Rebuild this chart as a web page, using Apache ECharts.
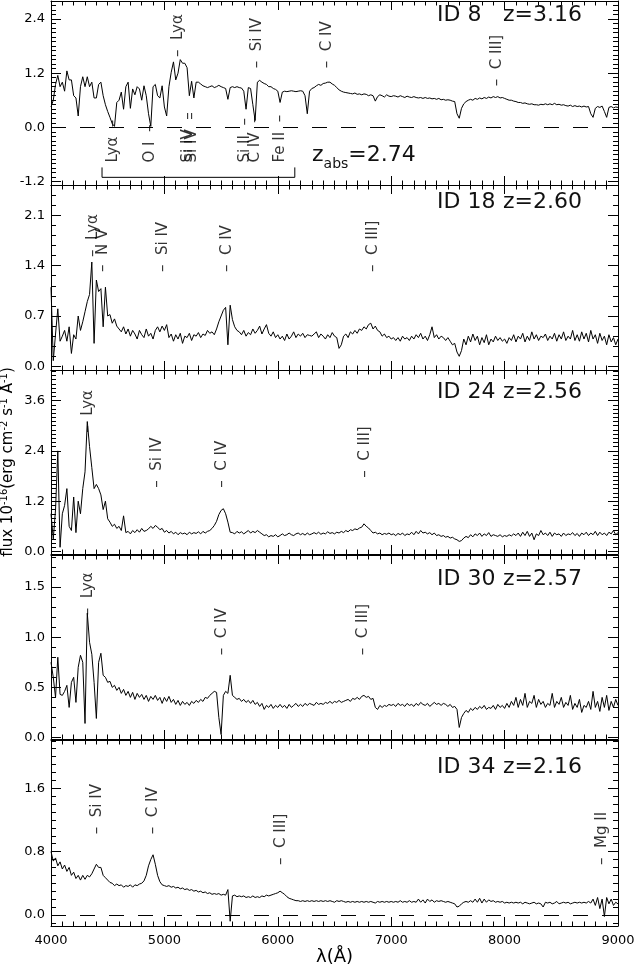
<!DOCTYPE html>
<html><head><meta charset="utf-8">
<script src="https://cdn.jsdelivr.net/npm/echarts@6/dist/echarts.min.js"></script>
<style>html,body{margin:0;padding:0;background:#fff}#c{width:635px;height:966px}</style>
</head><body><div id="c"></div>
<script>
// ---------- data ----------
const WAVE_START = 4000, WAVE_STEP = 20;   // wavelength grid (Å)

const spec8 = [
0.45,0.6,0.95,1.15,0.9,1.0,0.8,1.25,1.05,1.05,
0.7,0.65,0.25,0.9,1.12,0.9,1.12,0.9,1.0,0.65,
0.65,0.95,1.0,0.7,0.5,0.35,0.22,0.08,0.02,0.55,
0.6,0.78,0.4,0.9,1.0,0.42,0.85,0.72,0.9,0.85,
0.6,0.92,0.7,0.3,0.02,0.9,0.95,0.7,0.65,0.92,
0.45,0.25,0.9,1.22,1.45,1.05,1.2,1.5,1.42,1.42,
1.32,0.7,1.02,0.65,1.0,1.0,0.96,0.92,0.9,0.88,
0.9,0.92,0.88,0.9,0.93,0.9,0.88,0.86,0.62,0.88,
0.9,0.88,0.9,0.88,0.87,0.8,0.4,0.88,0.86,0.5,
0.15,1.0,1.04,1.0,0.97,0.95,0.9,0.9,0.86,0.84,
0.8,0.55,0.78,0.8,0.79,0.8,0.81,0.8,0.79,0.8,
0.81,0.8,0.7,0.3,0.8,0.86,0.88,0.92,0.95,0.93,
0.97,0.98,1.0,1.0,0.96,0.93,0.88,0.83,0.8,0.78,
0.77,0.76,0.75,0.74,0.76,0.73,0.74,0.72,0.74,0.73,
0.7,0.72,0.7,0.58,0.68,0.72,0.7,0.67,0.72,0.69,
0.68,0.7,0.69,0.67,0.7,0.68,0.66,0.69,0.67,0.66,
0.68,0.66,0.65,0.66,0.64,0.66,0.64,0.65,0.63,0.64,
0.62,0.64,0.61,0.62,0.6,0.61,0.6,0.58,0.57,0.3,
0.2,0.42,0.52,0.57,0.6,0.62,0.6,0.64,0.62,0.65,
0.63,0.66,0.64,0.67,0.65,0.68,0.66,0.68,0.65,0.66,
0.64,0.62,0.6,0.6,0.58,0.57,0.55,0.55,0.53,0.54,
0.52,0.51,0.52,0.5,0.5,0.49,0.51,0.5,0.52,0.5,
0.52,0.5,0.53,0.5,0.51,0.49,0.5,0.48,0.47,0.49,
0.46,0.48,0.46,0.47,0.45,0.47,0.45,0.46,0.3,0.22,
0.42,0.46,0.44,0.47,0.35,0.22,0.44,0.46,0.43,0.45,
0.44];

const spec18 = [
1.1,0.08,0.45,0.8,0.35,0.42,0.5,0.35,0.55,0.18,
0.44,0.38,0.7,0.5,0.62,0.76,0.9,1.0,1.45,0.32,
1.2,1.04,1.08,0.55,1.1,0.7,0.72,0.6,0.66,0.56,
0.52,0.48,0.55,0.45,0.52,0.42,0.5,0.45,0.38,0.5,
0.44,0.4,0.52,0.42,0.46,0.38,0.5,0.55,0.48,0.56,
0.5,0.58,0.4,0.45,0.35,0.44,0.38,0.46,0.32,0.42,
0.4,0.46,0.36,0.44,0.42,0.47,0.4,0.45,0.43,0.5,
0.46,0.48,0.44,0.52,0.62,0.7,0.78,0.82,0.3,0.85,
0.65,0.55,0.5,0.48,0.44,0.5,0.42,0.47,0.44,0.52,
0.46,0.5,0.56,0.45,0.52,0.58,0.46,0.42,0.48,0.4,
0.44,0.38,0.42,0.36,0.45,0.38,0.42,0.48,0.4,0.45,
0.42,0.46,0.4,0.44,0.43,0.42,0.45,0.48,0.4,0.45,
0.42,0.38,0.44,0.4,0.47,0.42,0.4,0.25,0.3,0.42,
0.45,0.4,0.48,0.45,0.5,0.46,0.52,0.5,0.55,0.52,
0.58,0.6,0.52,0.56,0.5,0.48,0.42,0.45,0.4,0.42,
0.38,0.4,0.36,0.4,0.35,0.42,0.38,0.4,0.36,0.42,
0.38,0.44,0.4,0.46,0.38,0.42,0.36,0.44,0.55,0.4,
0.44,0.38,0.42,0.4,0.36,0.4,0.35,0.3,0.32,0.2,
0.14,0.22,0.38,0.3,0.42,0.34,0.45,0.36,0.42,0.3,
0.4,0.33,0.44,0.3,0.38,0.34,0.42,0.36,0.4,0.35,
0.38,0.32,0.4,0.36,0.44,0.34,0.42,0.38,0.46,0.34,
0.42,0.36,0.48,0.38,0.44,0.36,0.42,0.4,0.45,0.36,
0.42,0.38,0.46,0.35,0.44,0.38,0.48,0.36,0.42,0.38,
0.5,0.36,0.44,0.35,0.48,0.38,0.46,0.34,0.5,0.38,
0.44,0.32,0.46,0.36,0.42,0.3,0.44,0.34,0.4,0.3,
0.38];

const spec24 = [
0.9,0.3,1.0,2.4,0.1,0.9,1.1,1.5,0.6,0.5,
1.3,0.45,1.2,0.9,1.5,1.9,3.1,2.5,2.0,1.5,
1.6,1.5,1.35,1.0,1.2,0.78,0.7,0.6,0.65,0.55,
0.6,0.5,0.85,0.45,0.48,0.42,0.5,0.45,0.52,0.46,
0.55,0.48,0.5,0.54,0.6,0.55,0.62,0.58,0.52,0.55,
0.46,0.5,0.44,0.48,0.42,0.46,0.4,0.45,0.42,0.44,
0.4,0.46,0.42,0.45,0.43,0.47,0.42,0.48,0.44,0.48,
0.5,0.55,0.62,0.72,0.88,0.98,1.02,0.9,0.7,0.46,
0.45,0.42,0.48,0.44,0.47,0.42,0.46,0.5,0.44,0.48,
0.45,0.5,0.46,0.42,0.38,0.4,0.35,0.38,0.36,0.4,
0.35,0.38,0.42,0.38,0.4,0.44,0.4,0.38,0.42,0.44,
0.4,0.43,0.39,0.44,0.4,0.42,0.45,0.42,0.46,0.41,
0.44,0.42,0.47,0.43,0.45,0.42,0.46,0.44,0.48,0.45,
0.5,0.47,0.52,0.5,0.54,0.52,0.56,0.58,0.66,0.6,
0.56,0.5,0.44,0.46,0.42,0.44,0.4,0.43,0.41,0.44,
0.4,0.42,0.38,0.43,0.4,0.44,0.38,0.42,0.4,0.46,
0.4,0.48,0.42,0.5,0.44,0.46,0.42,0.45,0.4,0.44,
0.38,0.4,0.36,0.38,0.34,0.36,0.32,0.34,0.3,0.28,
0.24,0.26,0.32,0.36,0.33,0.4,0.35,0.42,0.38,0.44,
0.36,0.42,0.38,0.45,0.36,0.4,0.38,0.36,0.4,0.35,
0.38,0.36,0.4,0.37,0.42,0.38,0.44,0.36,0.46,0.38,
0.48,0.36,0.44,0.28,0.42,0.38,0.5,0.4,0.44,0.38,
0.46,0.36,0.44,0.4,0.42,0.36,0.44,0.38,0.42,0.4,
0.45,0.38,0.43,0.36,0.44,0.4,0.46,0.38,0.44,0.4,
0.48,0.38,0.46,0.4,0.44,0.38,0.46,0.42,0.5,0.4,
0.45];

const spec30 = [
0.75,0.6,0.4,0.8,0.43,0.42,0.46,0.52,0.3,0.55,
0.6,0.35,0.7,0.82,0.75,0.14,1.24,0.95,0.83,0.55,
0.19,0.75,0.84,0.62,0.6,0.55,0.56,0.5,0.52,0.47,
0.5,0.44,0.48,0.42,0.46,0.4,0.45,0.38,0.44,0.4,
0.43,0.38,0.42,0.36,0.41,0.38,0.42,0.37,0.4,0.34,
0.4,0.36,0.41,0.35,0.38,0.33,0.37,0.32,0.36,0.33,
0.35,0.32,0.36,0.34,0.37,0.35,0.38,0.36,0.4,0.39,
0.42,0.44,0.46,0.45,0.2,0.03,0.42,0.46,0.44,0.62,
0.42,0.4,0.38,0.39,0.36,0.38,0.35,0.37,0.34,0.37,
0.33,0.35,0.31,0.34,0.28,0.32,0.3,0.33,0.29,0.32,
0.3,0.33,0.3,0.32,0.29,0.33,0.3,0.32,0.34,0.31,
0.33,0.31,0.34,0.32,0.34,0.33,0.32,0.35,0.33,0.34,
0.33,0.35,0.34,0.36,0.34,0.36,0.35,0.37,0.35,0.36,
0.37,0.38,0.36,0.39,0.38,0.4,0.38,0.41,0.42,0.4,
0.41,0.38,0.39,0.3,0.28,0.32,0.3,0.32,0.31,0.33,
0.32,0.33,0.31,0.34,0.32,0.33,0.31,0.34,0.32,0.33,
0.31,0.34,0.32,0.35,0.33,0.32,0.34,0.31,0.33,0.35,
0.33,0.34,0.32,0.34,0.33,0.31,0.33,0.3,0.31,0.28,
0.1,0.2,0.24,0.27,0.25,0.29,0.27,0.3,0.28,0.31,
0.29,0.32,0.28,0.3,0.29,0.32,0.28,0.33,0.3,0.32,
0.29,0.34,0.3,0.36,0.32,0.4,0.3,0.38,0.32,0.44,
0.3,0.36,0.34,0.42,0.3,0.38,0.33,0.36,0.3,0.34,
0.32,0.44,0.3,0.36,0.33,0.4,0.3,0.35,0.32,0.42,
0.28,0.34,0.3,0.38,0.25,0.32,0.3,0.36,0.28,0.46,
0.3,0.36,0.26,0.4,0.3,0.42,0.27,0.36,0.3,0.38,
0.32];

const spec34 = [
0.8,0.68,0.72,0.62,0.67,0.58,0.63,0.55,0.6,0.5,
0.54,0.46,0.5,0.44,0.5,0.45,0.5,0.48,0.52,0.58,
0.64,0.6,0.6,0.5,0.47,0.44,0.41,0.4,0.37,0.39,
0.37,0.38,0.35,0.37,0.36,0.38,0.35,0.38,0.37,0.39,
0.4,0.43,0.5,0.62,0.7,0.76,0.64,0.5,0.42,0.38,
0.37,0.36,0.37,0.35,0.36,0.34,0.35,0.33,0.34,0.32,
0.33,0.31,0.32,0.3,0.31,0.29,0.3,0.28,0.29,0.27,
0.28,0.26,0.27,0.26,0.27,0.25,0.26,0.25,0.32,-0.08,
0.24,0.25,0.23,0.24,0.23,0.24,0.22,0.23,0.22,0.24,
0.22,0.23,0.22,0.24,0.23,0.25,0.24,0.25,0.26,0.27,
0.28,0.3,0.28,0.26,0.23,0.21,0.2,0.19,0.18,0.18,
0.17,0.18,0.17,0.18,0.17,0.18,0.17,0.18,0.17,0.18,
0.17,0.18,0.17,0.18,0.17,0.16,0.18,0.17,0.18,0.17,
0.16,0.17,0.16,0.17,0.16,0.17,0.16,0.17,0.16,0.17,
0.16,0.17,0.16,0.15,0.17,0.16,0.17,0.16,0.17,0.16,
0.17,0.16,0.17,0.16,0.18,0.16,0.17,0.16,0.18,0.16,
0.17,0.16,0.2,0.16,0.19,0.15,0.2,0.17,0.19,0.16,
0.18,0.17,0.18,0.17,0.16,0.17,0.16,0.15,0.14,0.1,
0.11,0.14,0.16,0.17,0.16,0.18,0.16,0.2,0.16,0.21,
0.15,0.2,0.16,0.19,0.17,0.18,0.16,0.17,0.16,0.17,
0.15,0.16,0.15,0.16,0.15,0.16,0.15,0.16,0.14,0.16,
0.15,0.14,0.15,0.16,0.14,0.15,0.14,0.1,0.16,0.15,
0.16,0.14,0.15,0.17,0.14,0.15,0.16,0.15,0.16,0.14,
0.15,0.16,0.15,0.16,0.15,0.16,0.15,0.17,0.15,0.2,
0.12,0.22,0.08,0.2,-0.02,0.22,0.14,0.2,0.12,0.16,
0.14];

// line identifications: [label, wavelength (Å), flux at the tick foot]
const lines8 = [['Lyα',5120,1.56],['Si IV',5817,1.31],['C IV',6431,1.31],['C III]',7930,0.91]];
const lines8abs = [['Lyα',4547,-0.78],['O I',4873,-0.78],['Si IV',5208,-0.78],['Si IV',5243,-0.78],['Si II',5711,-0.78],['C IV',5799,-0.78],['Fe II',6019,-0.78]];
const lines18 = [['Lyα',4367,1.52],['N V',4456,1.31],['Si IV',4990,1.31],['C IV',5549,1.31],['C III]',6837,1.31]];
const lines24 = [['Lyα',4329,2.83],['Si IV',4932,1.52],['C IV',5505,1.52],['C III]',6769,1.76]];
const lines30 = [['Lyα',4329,1.22],['C IV',5505,0.82],['C III]',6754,0.82]];
const lines34 = [['Si IV',4403,1.02],['C IV',4897,1.02],['C III]',6028,0.63],['Mg II',8859,0.63]];
const bracketAbs = [[4450,-0.89],[4450,-1.11],[6150,-1.11],[6150,-0.89]];

const panelIds = ['ID 8','ID 18','ID 24','ID 30','ID 34'];
const redshifts = ['z=3.16','z=2.60','z=2.56','z=2.57','z=2.16'];
const yTicks = [[-1.2,0,1.2,2.4],[0,0.7,1.4,2.1],[0,1.2,2.4,3.6],[0,0.5,1.0,1.5],[0,0.8,1.6]];
const yRange = [[-1.28,2.8],[-0.05,2.52],[-0.06,4.33],[-0.015,1.82],[-0.14,2.21]];
const yMinorStep = [0.1,0.14,0.1,0.1,0.1];
const xTicks = [4000,5000,6000,7000,8000,9000];

const spectra = [spec8, spec18, spec24, spec30, spec34];
const lineSets = [
  lines8.map(d=>({name:d[0],value:[d[1],d[2]]})).concat(lines8abs.map(d=>({name:d[0],value:[d[1],d[2]],below:true}))),
  lines18.map(d=>({name:d[0],value:[d[1],d[2]]})),
  lines24.map(d=>({name:d[0],value:[d[1],d[2]]})),
  lines30.map(d=>({name:d[0],value:[d[1],d[2]]})),
  lines34.map(d=>({name:d[0],value:[d[1],d[2]]}))
];
const zeroLine = [true,false,false,false,true];

// ---------- layout / style ----------
const layout = [
  {top:1,height:184,titleTop:4},
  {top:185,height:185,titleTop:191},
  {top:370,height:184,titleTop:381},
  {top:555,height:184,titleTop:568},
  {top:740,height:186,titleTop:756}
];
const black = '#000';
const thinFont = "'DejaVu Sans ExtraLight', 'DejaVu Sans', sans-serif";

const grids=[], xAxes=[], yAxes=[], series=[], titles=[];
const titleStyle = {fontFamily:thinFont, fontSize:22, fontWeight:'normal', color:'#111'};

spectra.forEach((spec,i)=>{
  const L = layout[i];
  grids.push({left:51,right:17,top:L.top,height:L.height,containLabel:false,outerBoundsMode:'none'});
  const xBase = {gridIndex:i,type:'value',min:xTicks[0],max:xTicks[xTicks.length-1],interval:1000,
    axisLine:{show:true,onZero:false,lineStyle:{color:black,width:1}},
    axisTick:{show:true,inside:true,length:9,lineStyle:{color:black,width:1}},
    minorTick:{show:true,splitNumber:10,length:4.5,lineStyle:{color:black,width:1}},
    splitLine:{show:false},minorSplitLine:{show:false}};
  const last = i===spectra.length-1;
  xAxes.push(Object.assign({},xBase,{position:'bottom',
    axisLabel:{show:last,fontSize:13,fontFamily:thinFont,color:black,margin:8,showMinLabel:true,showMaxLabel:true,
      formatter:v=>String(v)},
    name: last?'λ(Å)':'', nameLocation:'middle', nameGap:22, nameMoveOverlap:false,
    nameTextStyle:{fontSize:18,fontFamily:thinFont,color:black}}));
  xAxes.push(Object.assign({},xBase,{position:'top',axisLabel:{show:false}}));

  const [mn,mx] = yRange[i];
  const st = yMinorStep[i];
  const minorVals = [];
  for (let k=Math.ceil(mn/st-1e-9); k*st<=mx+1e-9; k++) minorVals.push(+(k*st).toFixed(4));
  const yMaj = {gridIndex:i,type:'value',min:mn,max:mx,
    axisLine:{show:true,onZero:false,lineStyle:{color:black,width:1}},
    axisTick:{show:true,inside:true,length:10,customValues:yTicks[i],lineStyle:{color:black,width:1}},
    splitLine:{show:false}};
  const yMin = {gridIndex:i,type:'value',min:mn,max:mx,
    axisLine:{show:false,onZero:false},
    axisTick:{show:true,inside:true,length:5,customValues:minorVals,lineStyle:{color:black,width:1}},
    axisLabel:{show:false},splitLine:{show:false}};
  const leftMaj = Object.assign({},yMaj,{position:'left',
    axisLabel:{show:true,customValues:yTicks[i],formatter:v=>v.toFixed(1),fontSize:13,fontFamily:thinFont,color:black,margin:6}});
  if (i===2) {
    Object.assign(leftMaj,{
      name:'{b|flux 10}{s|-16}{b|(erg cm}{s|-2}{b| s}{s|-1}{b| Å}{s|-1}{b|)}',
      nameLocation:'middle', nameGap:35, nameRotate:90, nameMoveOverlap:false,
      nameTextStyle:{color:black,fontFamily:thinFont,
        rich:{b:{fontSize:15,lineHeight:17,verticalAlign:'bottom',fontFamily:thinFont,color:black},
              s:{fontSize:10,lineHeight:9,verticalAlign:'top',fontFamily:thinFont,color:black}}}
    });
  }
  yAxes.push(leftMaj);
  yAxes.push(Object.assign({},yMin,{position:'left'}));
  yAxes.push(Object.assign({},yMaj,{position:'right',axisLabel:{show:false}}));
  yAxes.push(Object.assign({},yMin,{position:'right'}));

  const xi = 2*i, yi = 4*i;
  const s = {type:'line',xAxisIndex:xi,yAxisIndex:yi,
    data:spec.map((v,k)=>[WAVE_START+WAVE_STEP*k,v]),
    symbol:'none',showSymbol:false,lineStyle:{color:black,width:1},
    silent:true,animation:false,z:3,clip:true};
  if (zeroLine[i]) {
    s.markLine = {silent:true,symbol:['none','none'],label:{show:false},animation:false,
      lineStyle:{color:black,width:1,type:[15,14]},data:[{yAxis:0}]};
  }
  series.push(s);
  series.push({type:'scatter',xAxisIndex:xi,yAxisIndex:yi,
    data:lineSets[i],
    symbolSize:1,itemStyle:{color:'rgba(0,0,0,0)'},silent:true,animation:false,z:4,
    emphasis:{disabled:true},
    label:{show:true,position:'inside',rotate:90,align:'left',verticalAlign:'middle',
      formatter:p=>p.data.below ? p.name+'  –' : '–  '+p.name,
      fontSize:15,fontFamily:thinFont,color:black}});

  titles.push({text:panelIds[i],left:437,top:L.titleTop,padding:0,textStyle:titleStyle});
  titles.push({text:redshifts[i],left:503,top:L.titleTop,padding:0,textStyle:titleStyle});
});

// absorber bracket in top panel
series.push({type:'line',xAxisIndex:0,yAxisIndex:0,data:bracketAbs,symbol:'none',
  lineStyle:{color:black,width:1},silent:true,animation:false,z:3});

titles.push({text:'{z|z}{s|abs}{n|=2.74}',left:312,top:144,padding:0,
  textStyle:{fontWeight:'normal',rich:{
    z:{fontFamily:thinFont,fontWeight:'normal',fontSize:22,lineHeight:24,verticalAlign:'top',color:'#111'},
    s:{fontFamily:thinFont,fontWeight:'normal',fontSize:14,lineHeight:27,verticalAlign:'bottom',color:'#111'},
    n:{fontFamily:thinFont,fontWeight:'normal',fontSize:22,lineHeight:24,verticalAlign:'top',color:'#111'}}}});

const chart = echarts.init(document.getElementById('c'));
chart.setOption({animation:false,backgroundColor:'#fff',title:titles,grid:grids,xAxis:xAxes,yAxis:yAxes,series:series});
</script></body></html>
